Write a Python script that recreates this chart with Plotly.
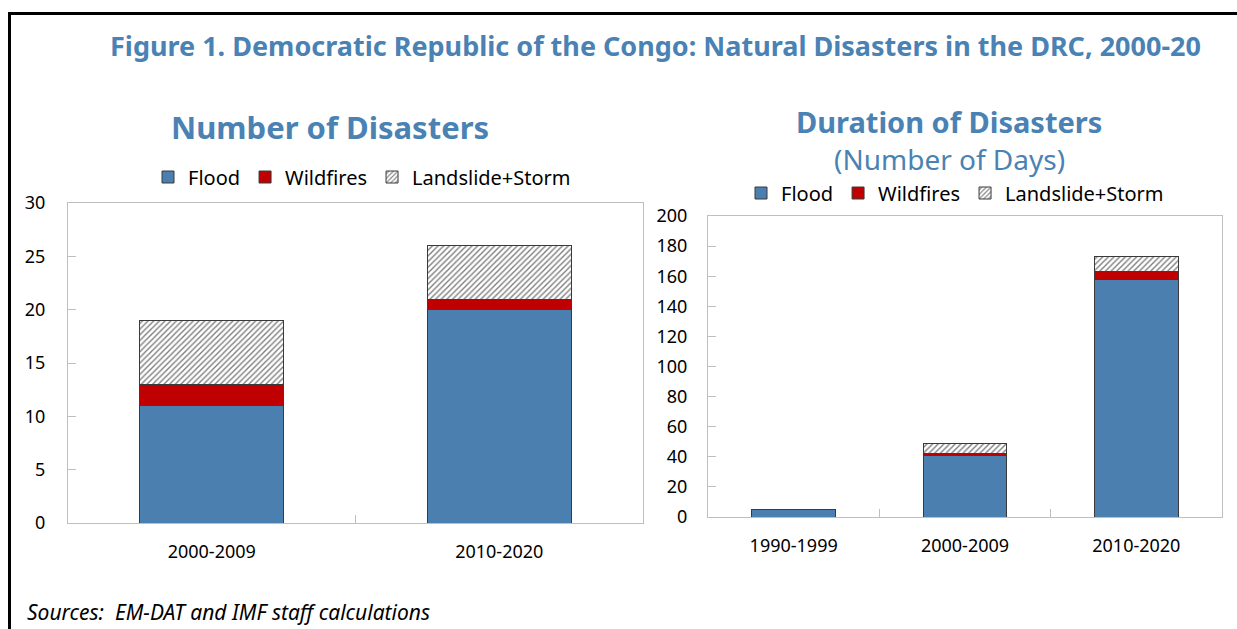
import plotly.graph_objects as go

# Number of disasters by decade
count_periods = ["2000-2009", "2010-2020"]
count_flood = [11, 20]
count_wildfires = [2, 1]
count_landslide_storm = [6, 5]

# Duration of disasters (number of days) by decade
days_periods = ["1990-1999", "2000-2009", "2010-2020"]
days_flood = [5, 41, 158]
days_wildfires = [0, 1, 5]
days_landslide_storm = [0, 7, 10]

W, H = 1237, 629
BLUE = "#4A7FAF"
RED = "#C00000"
TITLE_BLUE = "#4A82B4"
GRID = "#BFBFBF"
FONT = "Noto Sans"
OUTLINE = dict(color="#3A3A3A", width=1)


def px_x(x):
    return x / W


def px_y(y):
    return 1 - y / H


fig = go.Figure()

series = [
    ("Flood", dict(color=BLUE, line=OUTLINE)),
    ("Wildfires", dict(color=RED, line=OUTLINE)),
    ("Landslide+Storm", dict(color="white", line=OUTLINE,
                             pattern=dict(shape="/", fgcolor="black", bgcolor="white",
                                          size=4, solidity=0.35))),
]

for (name, marker), vals in zip(series, [count_flood, count_wildfires, count_landslide_storm]):
    fig.add_trace(go.Bar(x=count_periods, y=vals, name=name, marker=marker, width=0.5,
                         xaxis="x", yaxis="y", legend="legend"))

for (name, marker), vals in zip(series, [days_flood, days_wildfires, days_landslide_storm]):
    fig.add_trace(go.Bar(x=days_periods, y=vals, name=name, marker=marker, width=0.49,
                         xaxis="x2", yaxis="y2", legend="legend2"))

axis_common = dict(showline=True, linecolor=GRID, linewidth=1, mirror=True,
                   showgrid=False, zeroline=False, ticks="inside", ticklen=8,
                   tickcolor=GRID, tickfont=dict(family=FONT, size=18, color="black"))

legend_common = dict(orientation="h", xanchor="center", yanchor="middle",
                     font=dict(family=FONT, size=20), bgcolor="rgba(0,0,0,0)",
                     traceorder="normal", itemwidth=30)

fig.update_layout(
    width=W, height=H,
    margin=dict(l=0, r=0, t=0, b=0, autoexpand=False),
    paper_bgcolor="white", plot_bgcolor="white",
    barmode="stack",
    font=dict(family=FONT, color="black"),
    xaxis=dict(domain=[px_x(68), px_x(643)], anchor="y", tickson="boundaries",
               ticklabelstandoff=12, **axis_common),
    yaxis=dict(domain=[px_y(523), px_y(203)], anchor="x", range=[0, 30], dtick=5,
               ticklabelstandoff=18, **axis_common),
    xaxis2=dict(domain=[px_x(708), px_x(1222)], anchor="y2", tickson="boundaries",
                ticklabelstandoff=12, **axis_common),
    yaxis2=dict(domain=[px_y(517), px_y(216)], anchor="x2", range=[0, 200], dtick=20,
                ticklabelstandoff=16, **axis_common),
    legend=dict(x=px_x(362), y=px_y(177), **legend_common),
    legend2=dict(x=px_x(955), y=px_y(193), **legend_common),
    shapes=[
        dict(type="line", xref="paper", yref="paper", x0=px_x(8), x1=1, y0=px_y(13.5), y1=px_y(13.5),
             line=dict(color="black", width=3)),
        dict(type="line", xref="paper", yref="paper", x0=px_x(9.5), x1=px_x(9.5), y0=px_y(12), y1=0,
             line=dict(color="black", width=3)),
    ],
    annotations=[
        dict(text="<b>Figure 1. Democratic Republic of the Congo: Natural Disasters in the DRC, 2000-20</b>",
             x=px_x(655), y=px_y(45), xref="paper", yref="paper", showarrow=False,
             xanchor="center", yanchor="middle",
             font=dict(family=FONT, size=27, color=TITLE_BLUE)),
        dict(text="<b>Number of Disasters</b>", x=px_x(330), y=px_y(127), xref="paper", yref="paper",
             showarrow=False, xanchor="center", yanchor="middle",
             font=dict(family=FONT, size=31, color=TITLE_BLUE)),
        dict(text="<b>Duration of Disasters</b>", x=px_x(949), y=px_y(122), xref="paper", yref="paper",
             showarrow=False, xanchor="center", yanchor="middle",
             font=dict(family=FONT, size=29, color=TITLE_BLUE)),
        dict(text="(Number of Days)", x=px_x(950), y=px_y(159), xref="paper", yref="paper",
             showarrow=False, xanchor="center", yanchor="middle",
             font=dict(family=FONT, size=28, color=TITLE_BLUE)),
        dict(text="<i>Sources:  EM-DAT and IMF staff calculations</i>", x=px_x(25), y=px_y(612),
             xref="paper", yref="paper", showarrow=False, xanchor="left", yanchor="middle",
             font=dict(family=FONT, size=21, color="black")),
    ],
)

fig.write_html("out.html")
